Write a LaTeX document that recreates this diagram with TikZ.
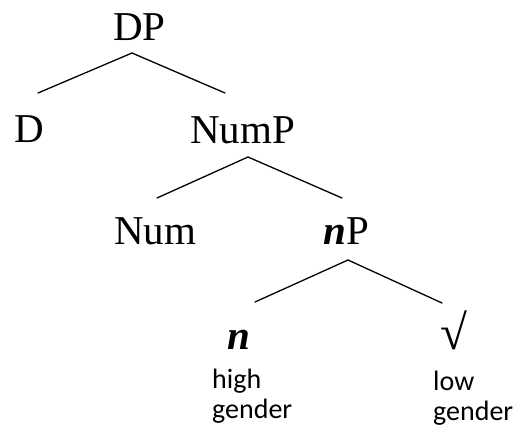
\documentclass[tikz,border=0pt]{standalone}
\usepackage{fontspec}
\setmainfont{Liberation Serif}
\newfontfamily\glossfont{Carlito}

\tikzset{
  cat/.style={inner sep=0pt,anchor=base,font=\fontsize{41}{49}\selectfont},
  gloss/.style={inner sep=0pt,anchor=base west,align=left,font=\glossfont\fontsize{28}{30}\selectfont},
  branch/.style={line width=1.3pt,line cap=round}
}
\newcommand{\littlen}{\textbf{\textit{n}}}

\begin{document}
\begin{tikzpicture}[x=1pt,y=-1pt]
\useasboundingbox (0,0) rectangle (518,431);

% categories
\node[cat] (DP)   at (139.5,40) {DP};
\node[cat] (D)    at (29,142)   {D};
\node[cat] (NumP) at (242.5,143) {NumP};
\node[cat] (Num)  at (155,244)  {Num};
\node[cat] (nP)   at (346.5,244) {\littlen P};
\node[cat] (n)    at (239,349)  {\littlen};
\node[cat,font=\fontsize{49}{55}\selectfont] (root) at (453.5,349) {√};

% glosses (base = last line)
\node[gloss] (high) at (212,418) {high\\gender};
\node[gloss] (low)  at (433,420) {low\\gender};

% branches
\draw[branch] ([shift={(-7.5,13)}]DP.base) -- ([shift={(9,-49)}]D.base);
\draw[branch] ([shift={(-7.5,13)}]DP.base) -- ([shift={(-17.5,-50)}]NumP.base);
\draw[branch] ([shift={(5.5,14)}]NumP.base) -- ([shift={(2,-46)}]Num.base);
\draw[branch] ([shift={(5.5,14)}]NumP.base) -- ([shift={(-4.5,-46)}]nP.base);
\draw[branch] ([shift={(1.5,16)}]nP.base) -- ([shift={(16,-47)}]n.base);
\draw[branch] ([shift={(1.5,16)}]nP.base) -- ([shift={(-11.5,-46)}]root.base);

\end{tikzpicture}
\end{document}
